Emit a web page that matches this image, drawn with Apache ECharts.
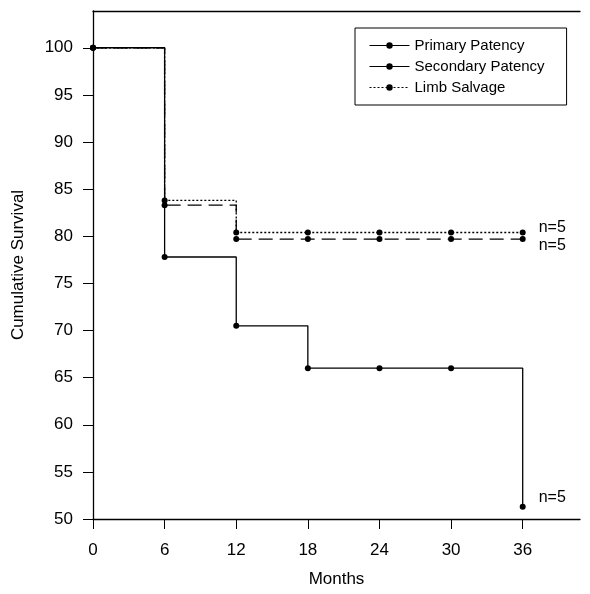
<!DOCTYPE html>
<html><head><meta charset="utf-8">
<script src="https://cdn.jsdelivr.net/npm/echarts@6/dist/echarts.min.js"></script>
<style>html,body{margin:0;padding:0;background:#fff}#c{width:590px;height:594px}</style>
</head><body><div id="c"></div>
<script>
const months = [0, 6, 12, 18, 24, 30, 36];
const primaryPatency = [100, 77.8, 70.5, 66.0, 66.0, 66.0, 51.3];
const secondaryPatency = [100, 83.3, 79.7, 79.7, 79.7, 79.7, 79.7];
const limbSalvage = [100, 83.8, 80.4, 80.4, 80.4, 80.4, 80.4];
const xTicks = [0, 6, 12, 18, 24, 30, 36];
const yTicks = [50, 55, 60, 65, 70, 75, 80, 85, 90, 95, 100];
const endLabel = 'n=5';

const font = 'Liberation Sans, Arial, sans-serif';
function pts(vals){ return months.map((m,i)=>[m, vals[i]]); }
function withEndLabel(vals, offY){
  const d = pts(vals);
  const last = d.length-1;
  d[last] = {value: d[last], label:{show:true, formatter:endLabel, position:'right', offset:[8,offY], color:'#000', fontSize:16, fontFamily:font}};
  return d;
}
const chart = echarts.init(document.getElementById('c'), null, {renderer:'canvas'});
const baseSeries = {type:'line', step:'end', symbol:'circle', symbolSize:6, showSymbol:true, itemStyle:{color:'#000'}, animation:false};
chart.setOption({
  animation:false,
  grid:{left:93, right:10, top:11, bottom:75, outerBoundsMode:'none', containLabel:false},
  legend:{
    left:355, top:28, orient:'vertical', itemWidth:40, itemHeight:8, itemGap:6,
    borderColor:'#000', borderWidth:1, padding:[10,22,10,14], backgroundColor:'#fff',
    textStyle:{fontFamily:font, fontSize:15, color:'#000'},
    data:[
      {name:'Primary Patency', lineStyle:{type:'solid', width:1}},
      {name:'Secondary Patency', lineStyle:{type:'solid', width:1}},
      {name:'Limb Salvage', lineStyle:{width:1}}
    ]
  },
  xAxis:[{type:'value', min:0, max:40.8, name:'Months', nameLocation:'middle', nameGap:52,
    nameTextStyle:{fontFamily:font, fontSize:17, color:'#000'},
    axisLine:{show:true, lineStyle:{color:'#000', width:1.3}},
    axisTick:{show:true, length:10, lineStyle:{color:'#000'}, customValues:xTicks},
    axisLabel:{fontFamily:font, fontSize:17, color:'#000', margin:23, customValues:xTicks},
    splitLine:{show:false}},
   {type:'value', position:'top', min:0, max:40.8, axisLine:{show:true, lineStyle:{color:'#000', width:1.3}},
    axisTick:{show:false}, axisLabel:{show:false}, splitLine:{show:false}}],
  yAxis:{type:'value', min:50, max:103.9, name:'Cumulative Survival', nameLocation:'middle', nameGap:66,
    nameTextStyle:{fontFamily:font, fontSize:17, color:'#000'},
    axisLine:{show:true, lineStyle:{color:'#000', width:1.3}},
    axisTick:{show:true, length:10, lineStyle:{color:'#000'}, customValues:yTicks},
    axisLabel:{fontFamily:font, fontSize:17, color:'#000', margin:20, customValues:yTicks},
    splitLine:{show:false}},
  series:[
    Object.assign({}, baseSeries, {name:'Primary Patency', data:withEndLabel(primaryPatency,-9), lineStyle:{color:'#000', width:1.3, type:'solid'}, z:3}),
    Object.assign({}, baseSeries, {name:'Secondary Patency', data:withEndLabel(secondaryPatency,7), lineStyle:{color:'#000', width:1.3, type:[14,7]}, z:2}),
    Object.assign({}, baseSeries, {name:'Limb Salvage', data:withEndLabel(limbSalvage,-5), lineStyle:{color:'#000', width:1.3, type:[2,2]}, z:1})
  ]
});
</script></body></html>
